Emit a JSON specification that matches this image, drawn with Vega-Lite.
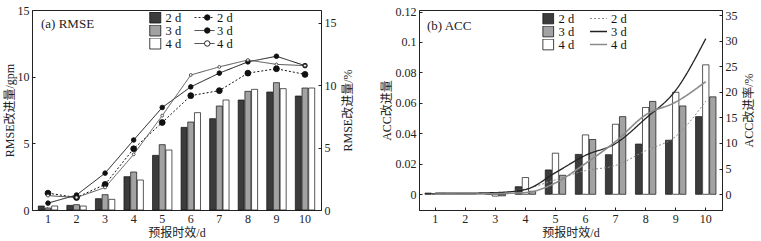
{
  "$schema": "https://vega.github.io/schema/vega-lite/v6.json",
  "padding": {"left": 2, "top": 3, "right": 2, "bottom": 0},
  "spacing": 25,
  "datasets": {
    "barsA": [
      {"d": 1, "s": "2 d", "v": 0.3}, {"d": 1, "s": "3 d", "v": 0.15}, {"d": 1, "s": "4 d", "v": 0.3},
      {"d": 2, "s": "2 d", "v": 0.35}, {"d": 2, "s": "3 d", "v": 0.4}, {"d": 2, "s": "4 d", "v": 0.3},
      {"d": 3, "s": "2 d", "v": 0.85}, {"d": 3, "s": "3 d", "v": 1.15}, {"d": 3, "s": "4 d", "v": 0.8},
      {"d": 4, "s": "2 d", "v": 2.5}, {"d": 4, "s": "3 d", "v": 2.85}, {"d": 4, "s": "4 d", "v": 2.25},
      {"d": 5, "s": "2 d", "v": 4.1}, {"d": 5, "s": "3 d", "v": 4.9}, {"d": 5, "s": "4 d", "v": 4.5},
      {"d": 6, "s": "2 d", "v": 6.2}, {"d": 6, "s": "3 d", "v": 6.6}, {"d": 6, "s": "4 d", "v": 7.3},
      {"d": 7, "s": "2 d", "v": 6.85}, {"d": 7, "s": "3 d", "v": 7.8}, {"d": 7, "s": "4 d", "v": 8.25},
      {"d": 8, "s": "2 d", "v": 8.25}, {"d": 8, "s": "3 d", "v": 8.9}, {"d": 8, "s": "4 d", "v": 9.05},
      {"d": 9, "s": "2 d", "v": 8.85}, {"d": 9, "s": "3 d", "v": 9.55}, {"d": 9, "s": "4 d", "v": 9.1},
      {"d": 10, "s": "2 d", "v": 8.55}, {"d": 10, "s": "3 d", "v": 9.15}, {"d": 10, "s": "4 d", "v": 9.15}
    ],
    "linesA": [
      {"d": 1, "t": "2 d", "m": "2 d", "v": 1.35}, {"d": 2, "t": "2 d", "m": "2 d", "v": 1.0}, {"d": 3, "t": "2 d", "m": "2 d", "v": 2.05}, {"d": 4, "t": "2 d", "m": "2 d", "v": 4.9}, {"d": 5, "t": "2 d", "m": "2 d", "v": 7.0},
      {"d": 6, "t": "2 d", "m": "2 d", "v": 9.15}, {"d": 7, "t": "2 d", "m": "2 d", "v": 9.55}, {"d": 8, "t": "2 d", "m": "2 d", "v": 10.95}, {"d": 9, "t": "2 d", "m": "2 d", "v": 11.3}, {"d": 10, "t": "2 d", "m": "2 d", "v": 10.85},
      {"d": 1, "t": "3 d", "m": "3 d", "v": 0.55}, {"d": 2, "t": "3 d", "m": "3 d", "v": 1.2}, {"d": 3, "t": "3 d", "m": "3 d", "v": 2.95}, {"d": 4, "t": "3 d", "m": "3 d", "v": 5.6}, {"d": 5, "t": "3 d", "m": "3 d", "v": 8.2},
      {"d": 6, "t": "3 d", "m": "3 d", "v": 9.85}, {"d": 7, "t": "3 d", "m": "3 d", "v": 10.95}, {"d": 8, "t": "3 d", "m": "3 d", "v": 11.85}, {"d": 9, "t": "3 d", "m": "3 d", "v": 12.3}, {"d": 10, "t": "3 d", "m": "3 d", "v": 11.55},
      {"d": 1, "t": "4 d", "m": "4 d", "v": 1.15}, {"d": 2, "t": "4 d", "m": "4 d", "v": 1.0}, {"d": 3, "t": "4 d", "m": "4 d", "v": 1.8}, {"d": 4, "t": "4 d", "m": "4 d", "v": 4.45}, {"d": 5, "t": "4 d", "m": "4 d", "v": 7.55},
      {"d": 6, "t": "4 d", "m": "4 d", "v": 10.8}, {"d": 7, "t": "4 d", "m": "4 d", "v": 11.45}, {"d": 8, "t": "4 d", "m": "4 d", "v": 12.0}, {"d": 9, "t": "4 d", "m": "4 d", "v": 11.65}, {"d": 10, "t": "4 d", "m": "4 d", "v": 11.55}
    ],
    "barsB": [
      {"d": 1, "s": "2 d", "v": 0.0008}, {"d": 1, "s": "3 d", "v": 0.0006}, {"d": 1, "s": "4 d", "v": 0.0005},
      {"d": 2, "s": "2 d", "v": 0.0005}, {"d": 2, "s": "3 d", "v": 0.0005}, {"d": 2, "s": "4 d", "v": 0.0004},
      {"d": 3, "s": "2 d", "v": 0.0003}, {"d": 3, "s": "3 d", "v": -0.001}, {"d": 3, "s": "4 d", "v": -0.0012},
      {"d": 4, "s": "2 d", "v": 0.005}, {"d": 4, "s": "3 d", "v": 0.002}, {"d": 4, "s": "4 d", "v": 0.011},
      {"d": 5, "s": "2 d", "v": 0.016}, {"d": 5, "s": "3 d", "v": 0.0125}, {"d": 5, "s": "4 d", "v": 0.027},
      {"d": 6, "s": "2 d", "v": 0.0262}, {"d": 6, "s": "3 d", "v": 0.036}, {"d": 6, "s": "4 d", "v": 0.039},
      {"d": 7, "s": "2 d", "v": 0.026}, {"d": 7, "s": "3 d", "v": 0.051}, {"d": 7, "s": "4 d", "v": 0.046},
      {"d": 8, "s": "2 d", "v": 0.033}, {"d": 8, "s": "3 d", "v": 0.061}, {"d": 8, "s": "4 d", "v": 0.057},
      {"d": 9, "s": "2 d", "v": 0.0355}, {"d": 9, "s": "3 d", "v": 0.058}, {"d": 9, "s": "4 d", "v": 0.067},
      {"d": 10, "s": "2 d", "v": 0.051}, {"d": 10, "s": "3 d", "v": 0.064}, {"d": 10, "s": "4 d", "v": 0.085}
    ],
    "linesB": [
      {"d": 1, "t": "2 d", "v": 0.1}, {"d": 2, "t": "2 d", "v": 0.1}, {"d": 3, "t": "2 d", "v": 0.2}, {"d": 4, "t": "2 d", "v": 1.0}, {"d": 5, "t": "2 d", "v": 2.8},
      {"d": 6, "t": "2 d", "v": 4.6}, {"d": 7, "t": "2 d", "v": 5.6}, {"d": 8, "t": "2 d", "v": 8.5}, {"d": 9, "t": "2 d", "v": 11.3}, {"d": 10, "t": "2 d", "v": 18.2},
      {"d": 1, "t": "3 d", "v": 0.2}, {"d": 2, "t": "3 d", "v": 0.2}, {"d": 3, "t": "3 d", "v": 0.3}, {"d": 4, "t": "3 d", "v": 0.9}, {"d": 5, "t": "3 d", "v": 4.2},
      {"d": 6, "t": "3 d", "v": 7.6}, {"d": 7, "t": "3 d", "v": 9.9}, {"d": 8, "t": "3 d", "v": 14.8}, {"d": 9, "t": "3 d", "v": 20.3}, {"d": 10, "t": "3 d", "v": 30.4},
      {"d": 1, "t": "4 d", "v": 0.0}, {"d": 2, "t": "4 d", "v": 0.0}, {"d": 3, "t": "4 d", "v": 0.1}, {"d": 4, "t": "4 d", "v": 0.3}, {"d": 5, "t": "4 d", "v": 2.2},
      {"d": 6, "t": "4 d", "v": 6.0}, {"d": 7, "t": "4 d", "v": 10.3}, {"d": 8, "t": "4 d", "v": 15.5}, {"d": 9, "t": "4 d", "v": 18.0}, {"d": 10, "t": "4 d", "v": 22.0}
    ]
  },
  "resolve": {
    "scale": {"fill": "independent", "strokeDash": "independent", "xOffset": "independent", "stroke": "independent", "strokeWidth": "independent", "size": "independent"},
    "legend": {"fill": "independent", "strokeDash": "independent", "stroke": "independent", "strokeWidth": "independent", "size": "independent"}
  },
  "hconcat": [
    {
      "width": 289,
      "height": 200,
      "title": {"text": "(a) RMSE", "anchor": "start", "frame": "group", "offset": -27, "dx": 9, "fontSize": 13, "fontWeight": "normal", "color": "#222"},
      "resolve": {"scale": {"y": "independent", "fill": "independent"}},
      "layer": [
        {
          "data": {"name": "barsA"},
          "mark": {"type": "bar", "stroke": "#111", "strokeWidth": 0.7},
          "encoding": {
            "x": {"field": "d", "type": "ordinal", "scale": {"paddingInner": 0.32, "paddingOuter": 0.22}, "axis": {"title": "预报时效/d", "labelAngle": 0, "titlePadding": 3, "labelPadding": 6}},
            "xOffset": {"field": "s", "type": "nominal", "sort": ["2 d", "3 d", "4 d"], "scale": {"domain": ["2 d", "3 d", "4 d"], "paddingInner": 0.1}},
            "y": {"field": "v", "type": "quantitative", "scale": {"domain": [0, 15]}, "axis": {"title": "RMSE改进量/gpm", "values": [0, 5, 10, 15], "titlePadding": 1}},
            "fill": {"field": "s", "type": "nominal", "scale": {"domain": ["2 d", "3 d", "4 d"], "range": ["#3c3c3c", "#a2a2a2", "#ffffff"]},
              "legend": {"title": null, "orient": "none", "legendX": 117, "legendY": 2, "symbolType": "square", "symbolSize": 121, "clipHeight": 11, "labelFontSize": 12.5, "labelColor": "#111", "rowPadding": 0, "labelOffset": 4, "symbolStrokeColor": "#111", "symbolStrokeWidth": 0.8}}
          }
        },
        {
          "data": {"name": "linesA"},
          "layer": [
            {
              "mark": {"type": "line", "strokeWidth": 1},
              "encoding": {
                "x": {"field": "d", "type": "ordinal"},
                "y": {"field": "v", "type": "quantitative", "scale": {"domain": [0, 15]}, "axis": {"orient": "right", "title": "RMSE改进量/%", "titleAngle": 270, "titleBaseline": "top", "values": [0, 5, 10, 15], "titlePadding": 6}},
                "strokeDash": {"field": "t", "type": "nominal", "scale": {"range": [[2, 2], [1, 0], [1, 0]]},
                  "legend": {"title": null, "orient": "none", "legendX": 162, "legendY": 2, "symbolType": "stroke", "symbolSize": 400, "clipHeight": 11, "labelFontSize": 12.5, "labelColor": "#111", "rowPadding": 0, "labelOffset": 2, "symbolStrokeColor": "#111", "symbolStrokeWidth": 0.9}},
                "stroke": {"condition": {"test": "datum.t === '4 d'", "value": "#555"}, "value": "#111"}
              }
            },
            {
              "mark": {"type": "point", "opacity": 1, "strokeWidth": 0.9, "shape": "circle"},
              "encoding": {
                "x": {"field": "d", "type": "ordinal"},
                "y": {"field": "v", "type": "quantitative"},
                "size": {"field": "m", "type": "ordinal", "scale": {"range": [34, 8, 34]}, "legend": null},
                "fill": {"field": "m", "type": "ordinal", "scale": {"range": ["#111111", "#111111", "#ffffff"]},
                  "legend": {"title": null, "orient": "none", "legendX": 169, "legendY": 2, "symbolType": "circle", "symbolSize": 30, "clipHeight": 11, "labelFontSize": 12.5, "labelOpacity": 0, "rowPadding": 0, "labelOffset": 2, "symbolStrokeColor": "#111", "symbolStrokeWidth": 0.9}},
                "stroke": {"condition": {"test": "datum.t === '4 d'", "value": "#444"}, "value": "#111"}
              }
            }
          ]
        }
      ]
    },
    {
      "width": 303,
      "height": 200,
      "title": {"text": "(b) ACC", "anchor": "start", "frame": "group", "offset": -27, "dx": 8, "fontSize": 13, "fontWeight": "normal", "color": "#222"},
      "resolve": {"scale": {"y": "independent"}},
      "layer": [
        {
          "data": {"name": "barsB"},
          "mark": {"type": "bar", "stroke": "#111", "strokeWidth": 0.7},
          "encoding": {
            "x": {"field": "d", "type": "ordinal", "scale": {"paddingInner": 0.32, "paddingOuter": 0.2}, "axis": {"title": "预报时效/d", "labelAngle": 0, "titlePadding": 3, "labelPadding": 6}},
            "xOffset": {"field": "s", "type": "nominal", "sort": ["2 d", "4 d", "3 d"], "scale": {"domain": ["2 d", "4 d", "3 d"], "paddingInner": 0.1}},
            "y": {"field": "v", "type": "quantitative", "scale": {"domain": [-0.0103, 0.121], "nice": false}, "axis": {"title": "ACC改进量", "values": [0, 0.02, 0.04, 0.06, 0.08, 0.1, 0.12], "format": "~g", "titlePadding": 2}},
            "fill": {"field": "s", "type": "nominal", "scale": {"domain": ["2 d", "3 d", "4 d"], "range": ["#3c3c3c", "#a2a2a2", "#ffffff"]},
              "legend": {"title": null, "orient": "none", "legendX": 123, "legendY": 3, "symbolType": "square", "symbolSize": 115, "clipHeight": 11, "labelFontSize": 12.5, "labelColor": "#111", "rowPadding": 0, "labelOffset": 4, "symbolStrokeColor": "#111", "symbolStrokeWidth": 0.8}}
          }
        },
        {
          "data": {"name": "linesB"},
          "mark": {"type": "line", "interpolate": "monotone"},
          "encoding": {
            "x": {"field": "d", "type": "ordinal"},
            "y": {"field": "v", "type": "quantitative", "scale": {"domain": [-3.1, 36], "nice": false}, "axis": {"orient": "right", "title": "ACC改进率/%", "titleAngle": 270, "titleBaseline": "top", "values": [0, 5, 10, 15, 20, 25, 30, 35], "titlePadding": 6}},
            "strokeDash": {"field": "t", "type": "nominal", "scale": {"range": [[2, 2], [1, 0], [1, 0]]},
              "legend": {"title": null, "orient": "none", "legendX": 170, "legendY": 3, "symbolType": "stroke", "symbolSize": 289, "clipHeight": 11, "labelFontSize": 12.5, "labelColor": "#111", "rowPadding": 0, "labelOffset": 3}},
            "stroke": {"field": "t", "type": "nominal", "scale": {"range": ["#8a8a8a", "#222222", "#8a8a8a"]}},
            "strokeWidth": {"field": "t", "type": "ordinal", "scale": {"range": [1, 1.6, 1]}}
          }
        }
      ]
    }
  ],
  "config": {
    "font": "Liberation Serif, Noto Sans CJK SC",
    "view": {"stroke": "#222", "strokeWidth": 1},
    "axis": {"grid": false, "domainColor": "#222", "tickColor": "#222", "labelColor": "#222", "titleColor": "#222", "labelFontSize": 12, "titleFontSize": 12, "titleFontWeight": "normal", "tickSize": -3, "labelPadding": 6},
    "legend": {"labelColor": "#111", "labelFont": "Liberation Serif"}
  }
}
